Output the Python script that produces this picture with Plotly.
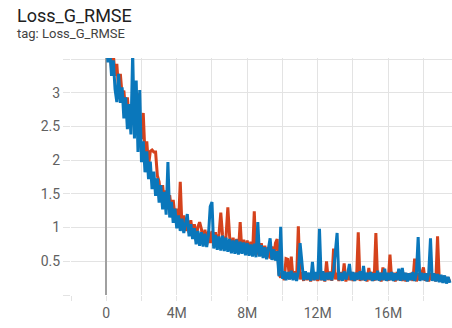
import plotly.graph_objects as go

# Training steps (in millions) sampled every 100k steps
steps_m = [round(i * 0.1, 1) for i in range(196)]

# Loss_G_RMSE per run, 10 samples per million steps
run_blue = [
    3.80, 3.45, 3.65, 3.25, 3.48, 3.05, 2.86, 3.28, 2.85, 3.08,
    2.62, 2.93, 2.46, 2.83, 2.38, 3.60, 2.32, 3.18, 2.12, 3.04,
    1.97, 2.28, 1.82, 2.13, 1.72, 1.98, 1.57, 1.83, 1.47, 1.73,
    1.37, 1.63, 1.27, 1.53, 1.19, 1.97, 1.15, 1.38, 1.07, 1.28,
    0.99, 1.18, 0.95, 1.13, 0.92, 1.09, 1.20, 0.87, 1.05, 0.83,
    0.99, 0.75, 0.95, 0.73, 0.93, 0.72, 0.91, 0.71, 0.89, 1.31,
    1.38, 0.69, 0.89, 0.67, 0.87, 0.66, 0.88, 0.65, 0.85, 0.64,
    0.83, 0.62, 0.81, 0.61, 0.82, 0.60, 0.79, 0.61, 0.78, 0.59,
    0.77, 0.58, 0.75, 0.57, 0.76, 0.56, 1.08, 0.57, 0.74, 0.55,
    0.71, 0.53, 0.69, 0.84, 0.52, 0.68, 0.51, 0.65, 0.28, 1.01,
    0.24, 0.35, 0.22, 0.34, 0.23, 0.36, 0.22, 0.33, 0.21, 0.34,
    0.77, 0.49, 0.22, 0.35, 0.23, 0.33, 0.21, 0.49, 0.22, 0.34,
    0.23, 0.98, 0.22, 0.35, 0.21, 0.33, 0.23, 0.34, 0.22, 0.35,
    0.66, 0.92, 0.22, 0.33, 0.21, 0.35, 0.23, 0.32, 0.46, 0.22,
    0.34, 0.21, 0.33, 0.23, 0.35, 0.22, 0.43, 0.21, 0.33, 0.23,
    0.34, 0.21, 0.32, 0.22, 0.36, 0.21, 0.33, 0.22, 0.39, 0.21,
    0.33, 0.22, 0.34, 0.21, 0.32, 0.22, 0.39, 0.21, 0.40, 0.22,
    0.33, 0.20, 0.32, 0.22, 0.34, 0.21, 0.32, 0.86, 0.21, 0.33,
    0.22, 0.32, 0.20, 0.33, 0.84, 0.21, 0.32, 0.20, 0.31, 0.19,
    0.30, 0.18, 0.29, 0.17, 0.27, 0.18,
]
run_red = [
    3.85, 3.55, 3.73, 3.35, 3.58, 3.25, 3.43, 3.05, 3.28, 2.97,
    3.03, 2.72, 2.93, 2.57, 2.83, 2.52, 2.73, 2.42, 2.99, 2.32,
    2.33, 2.70, 2.07, 2.28, 1.92, 2.13, 2.15, 2.12, 2.12, 1.77,
    1.68, 1.42, 1.63, 1.35, 1.55, 1.27, 1.48, 1.25, 1.41, 1.17,
    1.28, 1.05, 1.68, 0.99, 1.18, 0.95, 1.13, 0.92, 1.11, 0.89,
    1.05, 0.81, 1.01, 1.08, 0.98, 0.77, 0.97, 0.75, 0.95, 0.77,
    0.95, 0.73, 0.93, 0.71, 0.91, 1.22, 0.89, 0.69, 0.88, 1.30,
    0.87, 0.65, 0.85, 0.64, 0.83, 0.63, 1.08, 0.63, 0.82, 0.62,
    0.81, 0.60, 0.79, 0.59, 1.24, 0.59, 0.78, 0.58, 0.77, 0.57,
    0.73, 0.55, 0.71, 0.54, 0.72, 0.53, 0.77, 0.83, 0.31, 0.26,
    0.35, 0.22, 0.54, 0.53, 0.23, 0.57, 0.24, 0.35, 0.22, 1.02,
    0.23, 0.34, 0.21, 0.35, 0.22, 0.32, 0.20, 0.34, 0.22, 0.33,
    0.21, 0.34, 0.22, 0.33, 0.20, 0.50, 0.22, 0.35, 0.21, 0.69,
    0.23, 0.33, 0.21, 0.34, 0.22, 0.47, 0.20, 0.33, 0.22, 0.34,
    0.21, 0.33, 0.22, 0.93, 0.21, 0.34, 0.22, 0.32, 0.20, 0.40,
    0.22, 0.34, 0.21, 0.92, 0.22, 0.33, 0.20, 0.41, 0.22, 0.32,
    0.21, 0.60, 0.22, 0.33, 0.20, 0.34, 0.22, 0.32, 0.21, 0.33,
    0.20, 0.32, 0.22, 0.33, 0.21, 0.54, 0.20, 0.32, 0.22, 0.33,
    0.41, 0.21, 0.32, 0.20, 0.33, 0.22, 0.31, 0.20, 0.87, 0.21,
    0.29, 0.19, 0.28, 0.20, 0.26, 0.19,
]

x_tick_vals = [-2, 0, 2, 4, 6, 8, 10, 12, 14, 16, 18]
x_tick_text = ["", "0", "", "4M", "", "8M", "", "12M", "", "16M", ""]
y_tick_vals = [0, 0.5, 1, 1.5, 2, 2.5, 3, 3.5]
y_tick_text = ["", "0.5", "1", "1.5", "2", "2.5", "3", ""]

RED = "#d5421c"
BLUE = "#0a77bb"
GRID = "#e3e3e3"
TICK_FONT = dict(family="Roboto", size=14, color="#616161")

fig = go.Figure()
fig.add_trace(go.Scatter(x=steps_m, y=run_red, mode="lines",
                         line=dict(color=RED, width=3), showlegend=False))
fig.add_trace(go.Scatter(x=steps_m, y=run_blue, mode="lines",
                         line=dict(color=BLUE, width=3), showlegend=False))

fig.update_layout(
    width=452, height=328,
    margin=dict(l=71, r=0, t=58, b=33),
    paper_bgcolor="white", plot_bgcolor="white",
    font=dict(family="Roboto"),
    xaxis=dict(range=[-2.0, 19.62], tickmode="array",
               tickvals=x_tick_vals, ticktext=x_tick_text,
               showgrid=True, gridcolor=GRID, gridwidth=1,
               zeroline=True, zerolinecolor="#a0a0a0", zerolinewidth=2,
               ticks="outside", ticklen=5, tickcolor=GRID,
               showline=False, tickfont=TICK_FONT),
    yaxis=dict(range=[0, 3.515], tickmode="array",
               tickvals=y_tick_vals, ticktext=y_tick_text,
               showgrid=True, gridcolor=GRID, gridwidth=1,
               zeroline=False, ticks="outside", ticklen=7, tickcolor=GRID,
               showline=False, tickfont=TICK_FONT),
    annotations=[
        dict(text="Loss_G_RMSE", xref="paper", yref="paper",
             x=-0.146, y=1.0 + 43 / 237, xanchor="left", yanchor="middle",
             showarrow=False, font=dict(family="Roboto", size=18, color="#212121")),
        dict(text="tag: Loss_G_RMSE", xref="paper", yref="paper",
             x=-0.146, y=1.0 + 24 / 237, xanchor="left", yanchor="middle",
             showarrow=False, font=dict(family="Roboto", size=13, color="#424242")),
    ],
)

fig.write_html("out.html")
